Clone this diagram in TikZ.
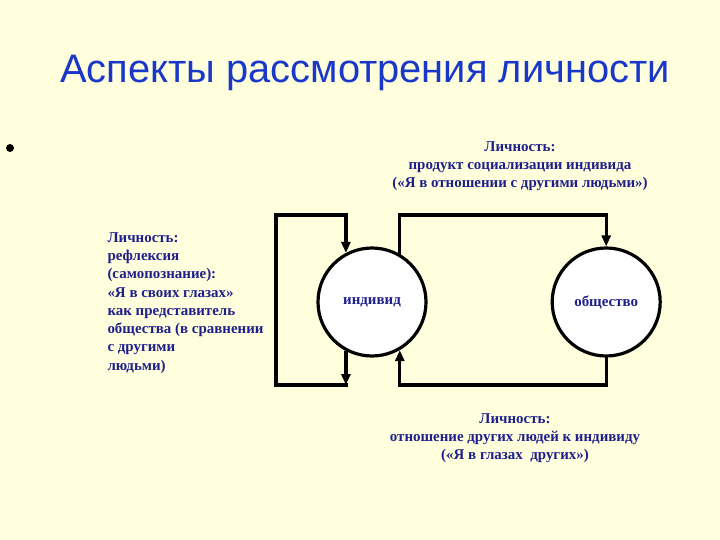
\documentclass[tikz,border=0pt]{standalone}
\usepackage{fontspec}
\setmainfont{Liberation Serif}
\newfontfamily\titlefont{Liberation Sans}
\usetikzlibrary{positioning,arrows.meta}
\definecolor{slidebg}{RGB}{255,255,221}
\definecolor{titleblue}{RGB}{25,55,200}
\definecolor{textnavy}{RGB}{30,30,140}

\begin{document}
\begin{tikzpicture}[
    x=1bp, y=-1bp,
    every node/.style={font=\bfseries\fontsize{15}{18.3}\selectfont, text=textnavy},
    circ/.style={circle, draw, line width=3.2pt, fill=white, minimum size=108bp, inner sep=0pt},
    link/.style={line width=3.2pt, line cap=rect, line join=miter},
    arrow/.style={line width=3.2pt, -{Triangle[length=11pt,width=9pt]}},
    note/.style={align=center}
]
\fill[slidebg] (0,0) rectangle (720,540);
\useasboundingbox (0,0) rectangle (720,540);

% Title and bullet
\node[font=\titlefont\fontsize{40}{42}\selectfont, text=titleblue] (title) at (365,73) {Аспекты рассмотрения личности};
\node[circle, fill=black, inner sep=0pt, minimum size=8bp] (bullet) at (10,148) {};

% Individual and society
\node[circ] (indiv) at (372,302) {индивид};
\node[circ, right=123bp of indiv] (soc) {общество};

% Corner points of the loops
\coordinate (ltop) at (276,215);
\coordinate (lbot) at (276,385);
\coordinate (rtop) at (soc.north |- ltop);

% Left loop: reflexion
\draw[arrow] (indiv.242) -- (indiv.242 |- lbot);
\draw[link] (indiv.242 |- lbot) -- (lbot) -- (ltop) -- (indiv.118 |- ltop);
\draw[arrow] (indiv.118 |- ltop) -- (indiv.118);

% Right loop: individual and society
\draw[link] (indiv.60) |- (rtop);
\draw[arrow] (rtop) -- (soc.north);
\draw[link] (soc.south) |- (indiv.300 |- lbot);
\draw[arrow] (indiv.300 |- lbot) -- (indiv.300);

% Texts
\node[note] (topnote) at (520,166) {Личность:\\продукт социализации индивида\\(«Я в отношении с другими людьми»)};
\node[align=left, anchor=west] (leftnote) at (104,303) {Личность:\\рефлексия\\(самопознание):\\«Я в своих глазах»\\как представитель\\общества (в сравнении\\с другими\\людьми)};
\node[note] (botnote) at (515,438) {Личность:\\отношение других людей к индивиду\\(«Я в глазах\ \ других»)};
\end{tikzpicture}
\end{document}
